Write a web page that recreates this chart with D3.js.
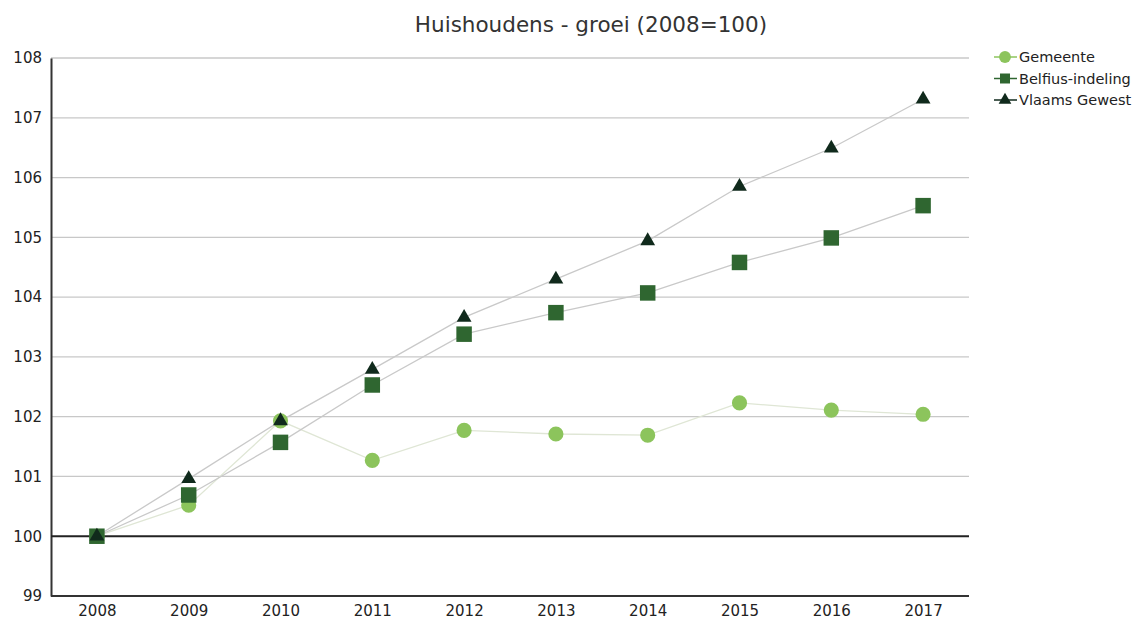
<!DOCTYPE html>
<html>
<head>
<meta charset="utf-8">
<script src="https://cdn.jsdelivr.net/npm/d3@7"></script>
<style>
  html, body { margin: 0; padding: 0; background: #fff; }
  svg { display: block; font-family: "DejaVu Sans", Verdana, sans-serif; }
</style>
</head>
<body>
<svg id="chart" width="1145" height="623"></svg>
<script>
// Years on the horizontal axis
const years = ["2008", "2009", "2010", "2011", "2012", "2013", "2014", "2015", "2016", "2017"];

// Household growth index (2008 = 100)
const gemeente = [100, 100.52, 101.93, 101.27, 101.77, 101.71, 101.69, 102.23, 102.11, 102.04];
const belfius  = [100, 100.69, 101.57, 102.53, 103.38, 103.74, 104.07, 104.58, 104.99, 105.53];
const vlaams   = [100, 100.96, 101.93, 102.79, 103.66, 104.30, 104.94, 105.85, 106.49, 107.31];

const yTicks = [99, 100, 101, 102, 103, 104, 105, 106, 107, 108];

const series = [
  { name: "Gemeente",        values: gemeente, shape: "circle",   fill: "#8cc45c", line: "#dfe6d5" },
  { name: "Belfius-indeling", values: belfius,  shape: "square",   fill: "#2f6630", line: "#c9c9c9" },
  { name: "Vlaams Gewest",   values: vlaams,   shape: "triangle", fill: "#102a1c", line: "#c9c9c9" }
];

const svg = d3.select("#chart");
const plotLeft = 51, plotRight = 969, plotTop = 58, plotBottom = 596;

const x = d3.scalePoint().domain(years).range([plotLeft, plotRight]).padding(0.5);
const y = d3.scaleLinear().domain([99, 108]).range([plotBottom, plotTop]);

// Title
svg.append("text")
  .attr("x", 591).attr("y", 32)
  .attr("text-anchor", "middle")
  .attr("font-size", 21.5)
  .attr("fill", "#333")
  .text("Huishoudens - groei (2008=100)");

// Horizontal gridlines
svg.append("g")
  .selectAll("line")
  .data(yTicks.filter(t => t !== 99 && t !== 100))
  .join("line")
  .attr("x1", plotLeft).attr("x2", plotRight)
  .attr("y1", d => y(d)).attr("y2", d => y(d))
  .attr("stroke", "#c8c8c8").attr("stroke-width", 1.3);

// Y axis
const yAxis = svg.append("g")
  .attr("transform", `translate(${plotLeft},0)`)
  .call(d3.axisLeft(y).tickValues(yTicks).tickSize(0).tickPadding(9));
yAxis.select(".domain").attr("stroke", "#333").attr("stroke-width", 2);
yAxis.selectAll("text").attr("font-size", 15).attr("fill", "#222")
  .attr("font-family", "DejaVu Sans, sans-serif");

// X axis
const xAxis = svg.append("g")
  .attr("transform", `translate(0,${plotBottom})`)
  .call(d3.axisBottom(x).tickSize(0).tickPadding(9));
xAxis.select(".domain").remove();
xAxis.selectAll("text").attr("font-size", 15).attr("fill", "#222")
  .attr("font-family", "DejaVu Sans, sans-serif");
svg.append("line")
  .attr("x1", plotLeft).attr("x2", plotRight)
  .attr("y1", plotBottom).attr("y2", plotBottom)
  .attr("stroke", "#333").attr("stroke-width", 2);

// Baseline at 100
svg.append("line")
  .attr("x1", plotLeft).attr("x2", plotRight)
  .attr("y1", y(100)).attr("y2", y(100))
  .attr("stroke", "#222").attr("stroke-width", 2);

const symbolType = { circle: d3.symbolCircle, square: d3.symbolSquare, triangle: d3.symbolTriangle };
const markerSize = { circle: 180, square: 240, triangle: 95 };
const legendSize = { circle: 110, square: 100, triangle: 70 };

const line = d3.line().x((d, i) => x(years[i])).y(d => y(d));

// Lines first, then markers on top
series.forEach(s => {
  svg.append("path")
    .datum(s.values)
    .attr("d", line)
    .attr("fill", "none")
    .attr("stroke", s.line)
    .attr("stroke-width", 1.3);
});
series.forEach(s => {
  svg.append("g")
    .selectAll("path")
    .data(s.values)
    .join("path")
    .attr("transform", (d, i) => `translate(${x(years[i])},${y(d)})`)
    .attr("d", d3.symbol().type(symbolType[s.shape]).size(markerSize[s.shape]))
    .attr("fill", s.fill);
});

// Legend
const legend = svg.append("g").attr("transform", "translate(1005,57)");
series.forEach((s, i) => {
  const g = legend.append("g").attr("transform", `translate(0,${i * 21.5})`);
  g.append("line").attr("x1", -11).attr("x2", 12).attr("y1", 0).attr("y2", 0)
    .attr("stroke", s.fill).attr("stroke-width", 1.5);
  g.append("path")
    .attr("d", d3.symbol().type(symbolType[s.shape]).size(legendSize[s.shape]))
    .attr("fill", s.fill);
  g.append("text")
    .attr("x", 14).attr("y", 0).attr("dy", "0.35em")
    .attr("font-size", 14.5).attr("fill", "#222")
    .text(s.name);
});
</script>
</body>
</html>
